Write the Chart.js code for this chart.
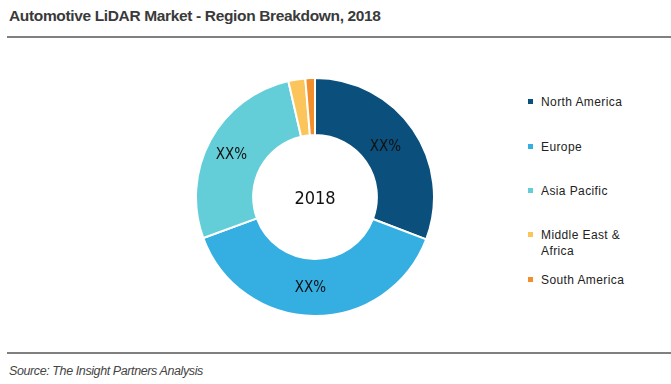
<!DOCTYPE html>
<html>
<head>
<meta charset="utf-8">
<script src="https://cdn.jsdelivr.net/npm/chart.js@4.4.1/dist/chart.umd.min.js"></script>
<style>
    body { margin: 0; width: 671px; height: 384px; background: #fff; position: relative; overflow: hidden; font-family: "Liberation Sans", Arial, sans-serif; }
    #titulo { position: absolute; left: 9px; top: 7px; font: bold 15.5px "Liberation Sans", Arial, sans-serif; letter-spacing: -0.35px; color: #3a3a3a; }
    .linha { position: absolute; left: 7px; right: 0; height: 2px; background: #808080; }
    #fonte { position: absolute; left: 9px; top: 364px; font: italic 12.5px "Liberation Sans", Arial, sans-serif; letter-spacing: -0.4px; color: #444; }
    #grafico-box { position: absolute; left: 195px; top: 77px; width: 240px; height: 240px; }
    #legenda { position: absolute; left: 527px; top: 94px; font-size: 12px; color: #222; letter-spacing: 0.4px; }
    .item { position: absolute; left: 0; width: 130px; padding-left: 14px; line-height: 16px; }
    .item span { position: absolute; left: 1px; top: 5px; width: 5px; height: 5px; }
</style>
</head>
<body>
<div id="titulo">Automotive LiDAR Market - Region Breakdown, 2018</div>
<div class="linha" style="top:36px"></div>
<div id="grafico-box"><canvas id="grafico"></canvas></div>
<div id="legenda"></div>
<div class="linha" style="top:352px"></div>
<div id="fonte">Source: The Insight Partners Analysis</div>

<script>
// Dados (participação estimada, %)
const regioes = ["North America", "Europe", "Asia Pacific", "Middle East & Africa", "South America"];
const participacao = [30.8, 38.6, 27.0, 2.3, 1.3];
const rotulos = ["XX%", "XX%", "XX%", "", ""];
const cores = ["#0b4f7c", "#35aee2", "#64ced8", "#fbc55b", "#f28f2c"];
const anoCentro = "2018";

// Rótulos dentro das fatias + ano no centro
const textoFatias = {
    id: 'textoFatias',
    afterDatasetsDraw(chart) {
        const ctx = chart.ctx;
        const meta = chart.getDatasetMeta(0);
        ctx.save();
        ctx.fillStyle = '#111';
        ctx.textAlign = 'center';
        ctx.textBaseline = 'middle';
        ctx.font = '15px "Liberation Sans Narrow", "DejaVu Sans Condensed", sans-serif';
        meta.data.forEach((arc, i) => {
            if (!rotulos[i]) return;
            const p = arc.tooltipPosition();
            ctx.fillText(rotulos[i], p.x - 4, p.y + 1);
        });
        const c = meta.data[0];
        ctx.font = '18px "Liberation Sans Narrow", "DejaVu Sans Condensed", sans-serif';
        ctx.fillText(anoCentro, c.x, c.y + 2);
        ctx.restore();
    }
};

new Chart(document.getElementById('grafico').getContext('2d'), {
    type: 'doughnut',
    data: {
        labels: regioes,
        datasets: [{
            data: participacao,
            backgroundColor: cores,
            borderColor: '#fff',
            borderWidth: 2
        }]
    },
    options: {
        responsive: true,
        maintainAspectRatio: false,
        animation: false,
        cutout: '52%',
        layout: { padding: 0 },
        plugins: {
            legend: { display: false },
            tooltip: { enabled: false }
        }
    },
    plugins: [textoFatias]
});

// Legenda em HTML (o rótulo do Oriente Médio quebra em duas linhas)
const legenda = document.getElementById('legenda');
const topos = [0, 45, 89, 133, 178];
regioes.forEach((nome, i) => {
    const div = document.createElement('div');
    div.className = 'item';
    div.style.top = topos[i] + 'px';
    div.innerHTML = `<span style="background:${cores[i]}"></span>${nome.replace(' & ', ' &amp;<br>')}`;
    legenda.appendChild(div);
});
</script>
</body>
</html>
